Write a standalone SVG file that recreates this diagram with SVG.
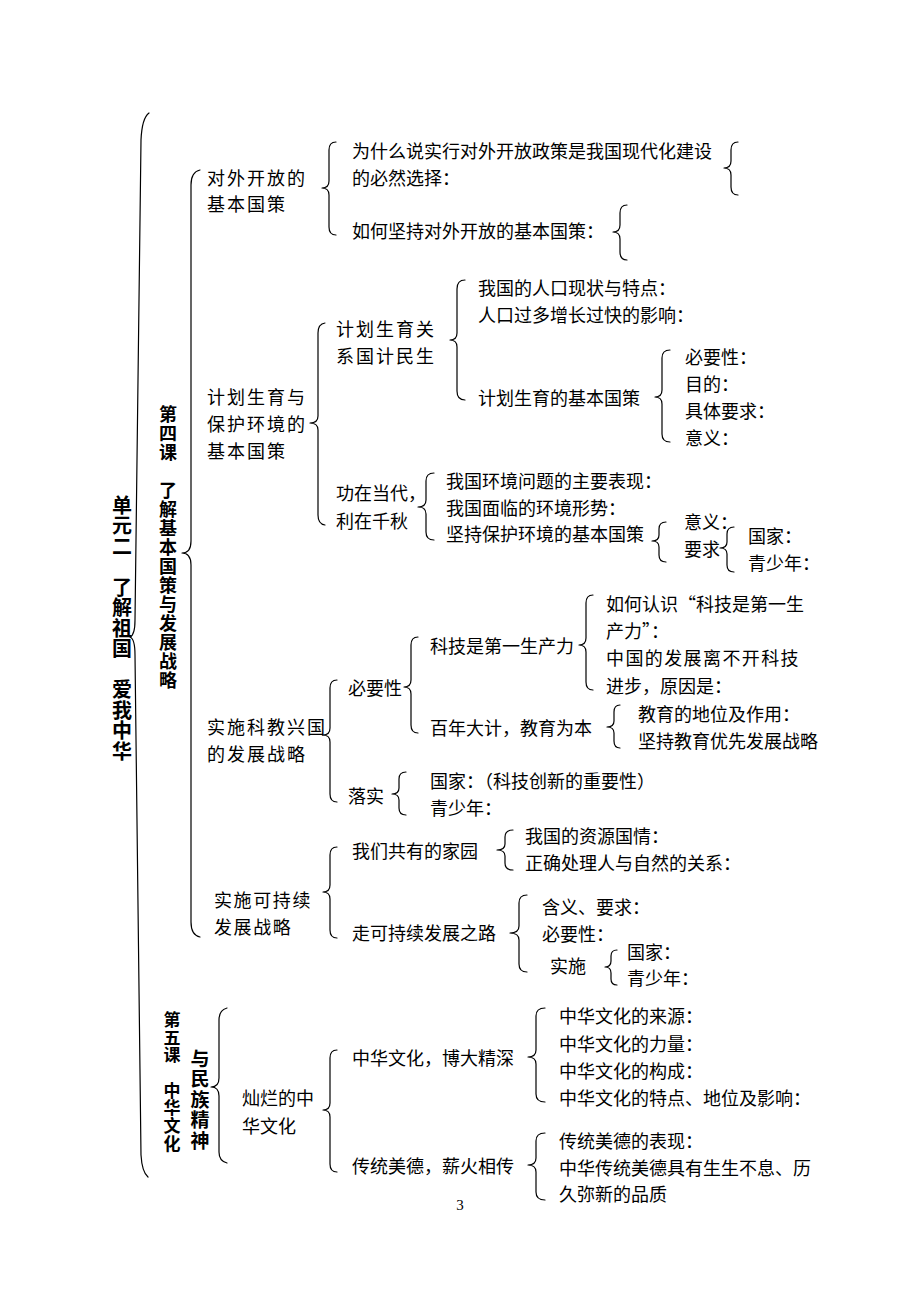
<svg xmlns="http://www.w3.org/2000/svg" width="920" height="1300" viewBox="0 0 920 1300">
<style>
.t{font-family:'Noto Sans CJK SC','Liberation Sans',sans-serif;font-size:18px;fill:#000;dominant-baseline:central}
.s{letter-spacing:2px}
.v{font-family:'Noto Sans CJK SC','Liberation Sans',sans-serif;font-weight:700;fill:#000;writing-mode:vertical-rl;text-orientation:upright}
.b{fill:none;stroke:#000;stroke-width:1.2;stroke-linejoin:round;stroke-linecap:round}
.n{font-family:'Liberation Serif',serif;font-size:15px;fill:#000}
</style>
<rect width="920" height="1300" fill="#fff"/>
<g id="connectors">
<path class="b" d="M149,113 Q142,118 141,140 L135,620 Q135,635 130,637 Q135,639 135,655 L141,1155 Q142,1172 148,1177"/>
<path class="b" d="M200,170 Q191,172 191,185 L191,541 Q191,553 182,553 Q191,553 191,565 L191,922 Q191,935 200,937"/>
<path class="b" d="M227,1008 Q219,1010 219,1020 L219,1078 Q219,1087 211,1087 Q219,1087 219,1096 L219,1152 Q219,1161 227,1163"/>
<path class="b" d="M336,142 Q329,142 329,150 L329,181 Q329,188 322,188 Q329,188 329,195 L329,227 Q329,235 336,235"/>
<path class="b" d="M738,142 Q731,142 731,150 L731,161 Q731,168 724,168 Q731,168 731,175 L731,187 Q731,195 738,195"/>
<path class="b" d="M627,205 Q620,205 620,213 L620,225 Q620,232 613,232 Q620,232 620,239 L620,252 Q620,260 627,260"/>
<path class="b" d="M325,323 Q318,324 318,333 L318,416 Q318,423 310,423 Q318,423 318,430 L318,515 Q318,524 325,525"/>
<path class="b" d="M465,280 Q457,280 457,289 L457,333 Q457,340 450,340 Q457,340 457,347 L457,391 Q457,400 465,400"/>
<path class="b" d="M670,350 Q662,350 662,358 L662,390 Q662,397 655,397 Q662,397 662,404 L662,434 Q662,442 670,442"/>
<path class="b" d="M434,473 Q426,473 426,481 L426,500 Q426,507 418,507 Q426,507 426,514 L426,532 Q426,540 434,540"/>
<path class="b" d="M666,522 Q659,522 659,529 L659,535 Q659,541 652,541 Q659,541 659,547 L659,555 Q659,562 666,562"/>
<path class="b" d="M734,527 Q727,527 727,534 L727,542 Q727,548 720,548 Q727,548 727,554 L727,565 Q727,572 734,572"/>
<path class="b" d="M337,680 Q330,680 330,688 L330,728 Q330,735 323,735 Q330,735 330,742 L330,794 Q330,802 337,802"/>
<path class="b" d="M418,637 Q411,637 411,645 L411,680 Q411,687 404,687 Q411,687 411,694 L411,725 Q411,733 418,733"/>
<path class="b" d="M593,595 Q586,595 586,603 L586,638 Q586,645 579,645 Q586,645 586,652 L586,682 Q586,690 593,690"/>
<path class="b" d="M620,705 Q614,705 614,712 L614,721 Q614,727 607,727 Q614,727 614,733 L614,741 Q614,748 620,748"/>
<path class="b" d="M406,772 Q399,772 399,779 L399,788 Q399,794 392,794 Q399,794 399,800 L399,808 Q399,815 406,815"/>
<path class="b" d="M337,847 Q330,847 330,855 L330,885 Q330,892 323,892 Q330,892 330,899 L330,930 Q330,938 337,938"/>
<path class="b" d="M513,830 Q505,830 505,837 L505,844 Q505,850 497,850 Q505,850 505,856 L505,863 Q505,870 513,870"/>
<path class="b" d="M527,895 Q519,895 519,903 L519,926 Q519,933 510,933 Q519,933 519,940 L519,964 Q519,972 527,972"/>
<path class="b" d="M617,950 Q611,950 611,956 L611,961 Q611,967 605,967 Q611,967 611,973 L611,979 Q611,985 617,985"/>
<path class="b" d="M337,1050 Q330,1050 330,1058 L330,1103 Q330,1110 323,1110 Q330,1110 330,1117 L330,1164 Q330,1172 337,1172"/>
<path class="b" d="M545,1008 Q536,1008 536,1016 L536,1050 Q536,1057 528,1057 Q536,1057 536,1064 L536,1094 Q536,1102 545,1102"/>
<path class="b" d="M545,1133 Q536,1133 536,1141 L536,1158 Q536,1165 528,1165 Q536,1165 536,1172 L536,1192 Q536,1200 545,1200"/>
</g>
<g id="unit2"><text class="v" x="122" y="495" style="font-size:20px;letter-spacing:0.5px">单元二　了解祖国　爱我中华</text></g>
<g id="lesson4"><text class="v" x="168" y="405" style="font-size:18px;letter-spacing:1px">第四课　了解基本国策与发展战略</text></g>
<g id="lesson5a"><text class="v" x="172" y="1011" style="font-size:17px;letter-spacing:0.7px">第五课　中华文化</text></g>
<g id="lesson5b"><text class="v" x="200" y="1049" style="font-size:19px;letter-spacing:1.5px">与民族精神</text></g>

<g id="n-open"><text class="t s" x="207" y="177">对外开放的</text><text class="t s" x="207" y="203">基本国策</text></g>
<g id="n-open-why"><text class="t" x="352" y="150">为什么说实行对外开放政策是我国现代化建设</text><text class="t" x="352" y="177">的必然选择：</text></g>
<g id="n-open-how"><text class="t" x="352" y="230">如何坚持对外开放的基本国策：</text></g>

<g id="n-plan"><text class="t s" x="207" y="396">计划生育与</text><text class="t s" x="207" y="423">保护环境的</text><text class="t s" x="207" y="450">基本国策</text></g>
<g id="n-plan-rel"><text class="t s" x="336" y="328">计划生育关</text><text class="t s" x="336" y="355">系国计民生</text></g>
<g id="n-pop1"><text class="t" x="478" y="287">我国的人口现状与特点：</text></g>
<g id="n-pop2"><text class="t" x="478" y="314">人口过多增长过快的影响：</text></g>
<g id="n-pop-policy"><text class="t" x="478" y="397">计划生育的基本国策</text></g>
<g id="n-pop-items"><text class="t" x="685" y="356">必要性：</text><text class="t" x="685" y="383">目的：</text><text class="t" x="685" y="410">具体要求：</text><text class="t" x="685" y="437">意义：</text></g>

<g id="n-env"><text class="t" x="336" y="492">功在当代，</text><text class="t" x="336" y="520">利在千秋</text></g>
<g id="n-env1"><text class="t" x="446" y="480">我国环境问题的主要表现：</text></g>
<g id="n-env2"><text class="t" x="446" y="507">我国面临的环境形势：</text></g>
<g id="n-env3"><text class="t" x="446" y="533">坚持保护环境的基本国策</text></g>
<g id="n-env3-items"><text class="t" x="684" y="521">意义：</text><text class="t" x="684" y="548">要求</text></g>
<g id="n-env3-req"><text class="t" x="748" y="535">国家：</text><text class="t" x="748" y="562">青少年：</text></g>

<g id="n-sci"><text class="t s" x="207" y="726">实施科教兴国</text><text class="t s" x="207" y="753">的发展战略</text></g>
<g id="n-sci-need"><text class="t" x="348" y="687">必要性</text></g>
<g id="n-sci-prod"><text class="t" x="430" y="645">科技是第一生产力</text></g>
<g id="n-sci-prod-items"><text class="t" x="606" y="603">如何认识“科技是第一生</text><text class="t" x="606" y="630">产力”：</text><text class="t" x="606" y="657" style="letter-spacing:1.4px">中国的发展离不开科技</text><text class="t" x="606" y="685">进步，原因是：</text></g>
<g id="n-sci-edu"><text class="t" x="430" y="727">百年大计，教育为本</text></g>
<g id="n-sci-edu-items"><text class="t" x="638" y="713">教育的地位及作用：</text><text class="t" x="638" y="740">坚持教育优先发展战略</text></g>
<g id="n-sci-do"><text class="t" x="348" y="795">落实</text></g>
<g id="n-sci-do-items"><text class="t" x="430" y="780">国家：（科技创新的重要性）</text><text class="t" x="430" y="807">青少年：</text></g>

<g id="n-sus"><text class="t" x="214" y="899" style="letter-spacing:1.6px">实施可持续</text><text class="t" x="214" y="926" style="letter-spacing:1.6px">发展战略</text></g>
<g id="n-sus-home"><text class="t" x="352" y="850">我们共有的家园</text></g>
<g id="n-sus-home-items"><text class="t" x="525" y="835">我国的资源国情：</text><text class="t" x="525" y="862">正确处理人与自然的关系：</text></g>
<g id="n-sus-road"><text class="t" x="352" y="932">走可持续发展之路</text></g>
<g id="n-sus-road-items"><text class="t" x="542" y="906">含义、要求：</text><text class="t" x="542" y="933">必要性：</text><text class="t" x="550" y="965">实施</text></g>
<g id="n-sus-do"><text class="t" x="627" y="951">国家：</text><text class="t" x="627" y="977">青少年：</text></g>

<g id="n-cul"><text class="t" x="242" y="1097">灿烂的中</text><text class="t" x="242" y="1125">华文化</text></g>
<g id="n-cul-deep"><text class="t" x="352" y="1057">中华文化，博大精深</text></g>
<g id="n-cul-deep-items"><text class="t" x="559" y="1015">中华文化的来源：</text><text class="t" x="559" y="1043">中华文化的力量：</text><text class="t" x="559" y="1070">中华文化的构成：</text><text class="t" x="559" y="1097">中华文化的特点、地位及影响：</text></g>
<g id="n-cul-virtue"><text class="t" x="352" y="1165">传统美德，薪火相传</text></g>
<g id="n-cul-virtue-items"><text class="t" x="559" y="1140">传统美德的表现：</text><text class="t" x="559" y="1167">中华传统美德具有生生不息、历</text><text class="t" x="559" y="1193">久弥新的品质</text></g>
<text class="n" x="460" y="1210" text-anchor="middle">3</text>
</svg>
